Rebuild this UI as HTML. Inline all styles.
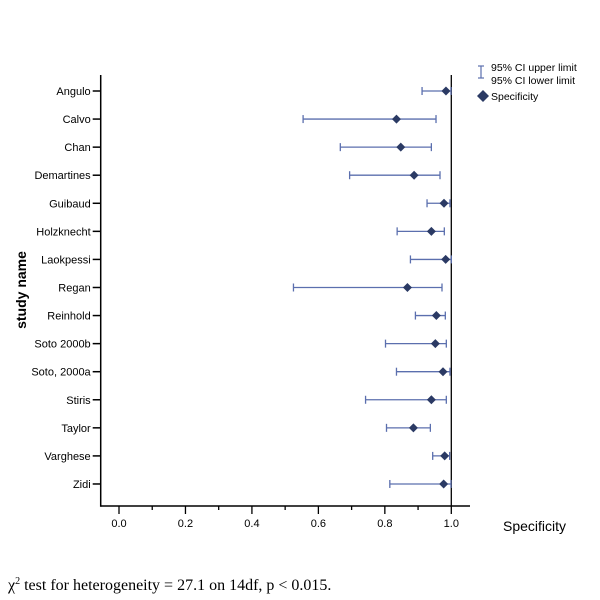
<!DOCTYPE html>
<html><head><meta charset="utf-8"><style>
html,body{margin:0;padding:0;background:#fff;}
svg{display:block;font-family:"Liberation Sans",Arial,sans-serif;}
</style></head><body>
<svg id="chart" width="600" height="600" viewBox="0 0 600 600">
<g id="axes"></g>
<g id="marks"></g>
<g>
 <line x1="481" y1="66" x2="481" y2="78" stroke="#5b6fae" stroke-width="1.2"/>
 <line x1="478" y1="66" x2="484" y2="66" stroke="#5b6fae" stroke-width="1.2"/>
 <line x1="478" y1="78" x2="484" y2="78" stroke="#5b6fae" stroke-width="1.2"/>
 <text x="491" y="71" font-size="10.5">95% CI upper limit</text>
 <text x="491" y="84" font-size="10.5">95% CI lower limit</text>
 <path d="M483 90 L489 96 L483 102 L477 96 Z" fill="#2b3a64"/>
 <text x="491" y="100" font-size="10.5">Specificity</text>
</g>
<text transform="translate(26,290) rotate(-90)" text-anchor="middle" font-size="14" font-weight="bold">study name</text>
<text x="503" y="531" font-size="14">Specificity</text>
<text x="8" y="590" font-family="Liberation Serif,serif" font-size="16">χ<tspan dy="-6" font-size="10">2</tspan><tspan dy="6"> test for heterogeneity = 27.1 on 14df, p &lt; 0.015.</tspan></text>
</svg>
<script>
const studies=["Angulo","Calvo","Chan","Demartines","Guibaud","Holzknecht","Laokpessi","Regan","Reinhold","Soto 2000b","Soto, 2000a","Stiris","Taylor","Varghese","Zidi"];
const estimates=[0.984,0.835,0.848,0.888,0.978,0.940,0.983,0.868,0.955,0.952,0.975,0.940,0.886,0.980,0.977];
const lowerCI=[0.912,0.554,0.666,0.694,0.927,0.837,0.877,0.525,0.892,0.802,0.835,0.742,0.805,0.944,0.815];
const upperCI=[0.999,0.954,0.940,0.966,0.996,0.979,1.0,0.972,0.982,0.985,0.996,0.985,0.937,0.995,0.999];
const xTicks=["0.0","0.2","0.4","0.6","0.8","1.0"];
const NS="http://www.w3.org/2000/svg";
const X0=119,X1=451.3;
const x=v=>X0+v*(X1-X0);
const y=i=>91+i*28.07;
const axisL=100.7,axisB=506,axisR=470,plotTop=75;
function mk(tag,attrs,parent){const e=document.createElementNS(NS,tag);for(const k in attrs)e.setAttribute(k,attrs[k]);parent.appendChild(e);return e;}
const axes=document.getElementById('axes'),marks=document.getElementById('marks');
let e;
e=mk('line',{x1:axisL,y1:plotTop,x2:axisL,y2:axisB+0.75,stroke:'#000','stroke-width':1.5},axes);


e=mk('line',{x1:axisL,y1:axisB,x2:axisR,y2:axisB,stroke:'#000','stroke-width':1.5},axes);


e=mk('line',{x1:x(1),y1:plotTop,x2:x(1),y2:axisB,stroke:'#000','stroke-width':1.3},axes);


for(let k=0;k<=10;k++){
 e=mk('line',{x1:x(k/10),y1:axisB,x2:x(k/10),y2:axisB+(k%2?4:8),stroke:'#000','stroke-width':1.3},axes);
 
 
}
xTicks.forEach(t=>{
 e=mk('text',{x:x(parseFloat(t)),y:527,'text-anchor':'middle','font-size':11},axes);
 e.textContent=t;
 
 
});
studies.forEach((s,i)=>{
 const yy=y(i);
 e=mk('line',{x1:axisL-8,y1:yy,x2:axisL,y2:yy,stroke:'#000','stroke-width':1.5},axes);
 
 
 e=mk('text',{x:axisL-10,y:yy+4,'text-anchor':'end','font-size':11},axes);
 e.textContent=s;
 
 
 const g=mk('g',{},marks);
 
 
 const c='#5b6fae';
 mk('line',{x1:x(lowerCI[i]),y1:yy,x2:x(upperCI[i]),y2:yy,stroke:c,'stroke-width':1.3},g);
 mk('line',{x1:x(lowerCI[i]),y1:yy-4,x2:x(lowerCI[i]),y2:yy+4,stroke:c,'stroke-width':1.3},g);
 mk('line',{x1:x(upperCI[i]),y1:yy-4,x2:x(upperCI[i]),y2:yy+4,stroke:c,'stroke-width':1.3},g);
 const px=x(estimates[i]);
 e=mk('path',{d:`M${px} ${yy-4.5} L${px+4.5} ${yy} L${px} ${yy+4.5} L${px-4.5} ${yy} Z`,fill:'#2b3a64'},g);
 
 
});
</script>
</body></html>
